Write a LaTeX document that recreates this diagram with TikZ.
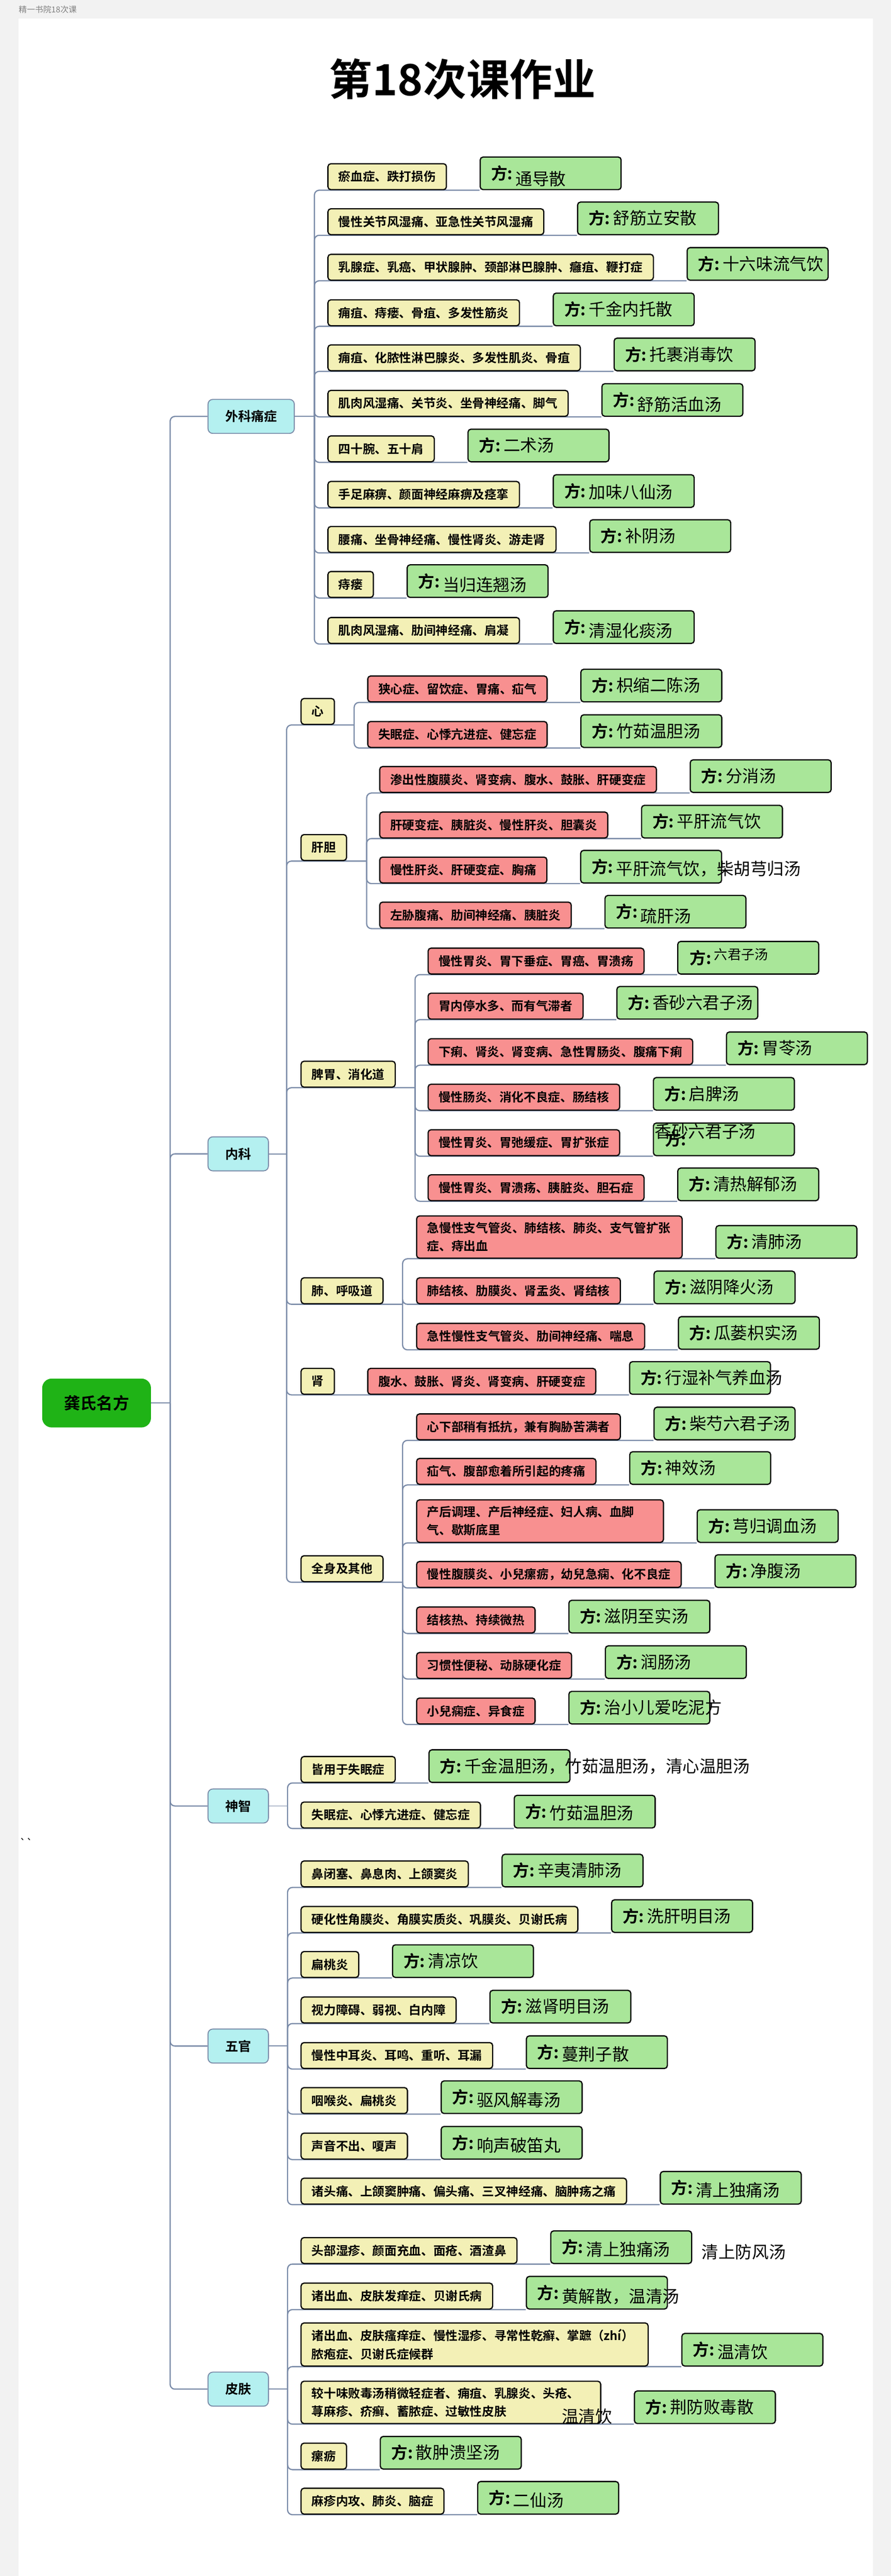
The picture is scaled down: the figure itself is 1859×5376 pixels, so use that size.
\documentclass[tikz,border=0pt]{standalone}
\usepackage{fontspec}
\setmainfont{Noto Sans CJK SC}[BoldFont={Noto Sans CJK SC Bold}]
\pgfdeclarelayer{bg}
\pgfdeclarelayer{lines}
\pgfsetlayers{bg,lines,main}
\definecolor{linec}{HTML}{7A8BA8}
\definecolor{yelc}{HTML}{F3F0B6}
\definecolor{redc}{HTML}{F89090}
\definecolor{fangc}{HTML}{A9E699}
\definecolor{bluec}{HTML}{B4F0F0}
\definecolor{rootc}{HTML}{1FB316}
\definecolor{pagec}{HTML}{F2F2F2}
% text of a green box: fixed width, long names run out of the box
\newcommand{\fangtxt}[2][0]{\makebox[294pt][l]{\hspace{23pt}{\bfseries\fontsize{34}{40}\selectfont 方:}\hspace{6pt}\smash{\raisebox{#1pt}{\fontsize{35}{40}\selectfont #2}}}\rule[-5pt]{0pt}{36pt}}

\begin{document}
\begin{tikzpicture}[x=1pt,y=-1pt,
    zheng/.style={draw=black, line width=2.5pt, rounded corners=6pt, fill=yelc,
      inner xsep=22pt, inner ysep=13pt, minimum height=54pt, anchor=south west,
      font=\fontsize{25.4}{38}\selectfont\bfseries},
    zhengr/.style={zheng, fill=redc},
    fang/.style={draw=black, line width=2.5pt, rounded corners=6pt, fill=fangc,
      inner sep=0pt, minimum height=68pt, anchor=south west},
    ke/.style={draw=linec, line width=2pt, rounded corners=10pt, fill=bluec,
      inner xsep=36pt, minimum height=71pt, anchor=west,
      font=\fontsize{27}{30}\selectfont\bfseries},
    lian/.style={draw=linec, line width=2.5pt, rounded corners=10pt}]
\useasboundingbox (0,0) rectangle (1859,5376);
\begin{pgfonlayer}{bg}
  \fill[pagec] (0,0) rectangle (1859,5376);
  \fill[white] (39,39) rectangle (1821,5376);
\end{pgfonlayer}

\node[anchor=west, inner sep=0pt, text=gray, font=\fontsize{17}{20}\selectfont] (head) at (39,20) {精一书院18次课};
\node[font=\fontsize{90}{100}\selectfont\bfseries] (title) at (965,165) {第18次课作业};
\node[inner sep=0pt, font=\fontsize{22}{24}\selectfont] (tick) at (55,3845) {\textasciigrave\textasciigrave};

% root and main branches
\node[fill=rootc, rounded corners=20pt, minimum width=227pt, minimum height=102pt,
  font=\fontsize{34}{40}\selectfont\bfseries] (root) at (201.5,2928) {龚氏名方};
\node[ke] (waike) at (433,869) {外科痛症};
\node[ke] (neike) at (433,2408) {内科};
\node[ke] (shenzhi) at (433,3769) {神智};
\node[ke] (wuguan) at (433,4270) {五官};
\node[ke] (pifu) at (433,4986) {皮肤};

\coordinate (mainS) at (355,2928);
\coordinate (waikeS) at (656,869);
\coordinate (neikeS) at (598,2408);
\coordinate (shenzhiS) at (600,3769);
\coordinate (wuguanS) at (600,4270);
\coordinate (pifuS) at (600,4986);

% 外科痛症
\node[zheng] (w1) at (683,397) {瘀血症、跌打损伤};
\node[fang] (wf1) at ([xshift=68pt]w1.south east) {\fangtxt[-12]{通导散}};
\node[zheng] (w2) at (683,491) {慢性关节风湿痛、亚急性关节风湿痛};
\node[fang] (wf2) at ([xshift=68pt]w2.south east) {\fangtxt{舒筋立安散}};
\node[zheng] (w3) at (683,586) {乳腺症、乳癌、甲状腺肿、颈部淋巴腺肿、癰疽、鞭打症};
\node[fang] (wf3) at ([xshift=68pt]w3.south east) {\fangtxt{十六味流气饮}};
\node[zheng] (w4) at (683,681) {痈疽、痔瘘、骨疽、多发性筋炎};
\node[fang] (wf4) at ([xshift=68pt]w4.south east) {\fangtxt{千金内托散}};
\node[zheng] (w5) at (683,775) {痈疽、化脓性淋巴腺炎、多发性肌炎、骨疽};
\node[fang] (wf5) at ([xshift=68pt]w5.south east) {\fangtxt{托裹消毒饮}};
\node[zheng] (w6) at (683,870) {肌肉风湿痛、关节炎、坐骨神经痛、脚气};
\node[fang] (wf6) at ([xshift=68pt]w6.south east) {\fangtxt[-10]{舒筋活血汤}};
\node[zheng] (w7) at (683,965) {四十腕、五十肩};
\node[fang] (wf7) at ([xshift=68pt]w7.south east) {\fangtxt{二术汤}};
\node[zheng] (w8) at (683,1060) {手足麻痹、颜面神经麻痹及痉挛};
\node[fang] (wf8) at ([xshift=68pt]w8.south east) {\fangtxt[-3]{加味八仙汤}};
\node[zheng] (w9) at (683,1154) {腰痛、坐骨神经痛、慢性肾炎、游走肾};
\node[fang] (wf9) at ([xshift=68pt]w9.south east) {\fangtxt{补阴汤}};
\node[zheng] (w10) at (683,1248) {痔瘘};
\node[fang] (wf10) at ([xshift=68pt]w10.south east) {\fangtxt[-8]{当归连翘汤}};
\node[zheng] (w11) at (683,1344) {肌肉风湿痛、肋间神经痛、肩凝};
\node[fang] (wf11) at ([xshift=68pt]w11.south east) {\fangtxt[-8]{清湿化痰汤}};

% 内科
\node[zheng] (xin) at (627,1513) {心};
\node[zheng] (gd) at (627,1797) {肝胆};
\node[zheng] (pw) at (627,2270) {脾胃、消化道};
\node[zheng] (fei) at (627,2722) {肺、呼吸道};
\node[zheng] (shen) at (627,2911) {肾};
\node[zheng] (qs) at (627,3302) {全身及其他};
\coordinate (xinS) at (739,1513);
\coordinate (gdS) at (765,1797);
\coordinate (pwS) at (866,2270);
\coordinate (feiS) at (840,2722);
\coordinate (qsS) at (840,3302);

\node[zhengr] (x1) at (766,1466) {狭心症、留饮症、胃痛、疝气};
\node[fang] (xf1) at ([xshift=68pt]x1.south east) {\fangtxt{枳缩二陈汤}};
\node[zhengr] (x2) at (766,1561) {失眠症、心悸亢进症、健忘症};
\node[fang] (xf2) at ([xshift=68pt]x2.south east) {\fangtxt{竹茹温胆汤}};

\node[zhengr] (g1) at (791,1655) {渗出性腹膜炎、肾变病、腹水、鼓胀、肝硬变症};
\node[fang] (gf1) at ([xshift=68pt]g1.south east) {\fangtxt{分消汤}};
\node[zhengr] (g2) at (791,1750) {肝硬变症、胰脏炎、慢性肝炎、胆囊炎};
\node[fang] (gf2) at ([xshift=68pt]g2.south east) {\fangtxt{平肝流气饮}};
\node[zhengr] (g3) at (791,1844) {慢性肝炎、肝硬变症、胸痛};
\node[fang] (gf3) at ([xshift=68pt]g3.south east) {\fangtxt[-4]{平肝流气饮，柴胡芎归汤}};
\node[zhengr] (g4) at (791,1938) {左胁腹痛、肋间神经痛、胰脏炎};
\node[fang] (gf4) at ([xshift=68pt]g4.south east) {\fangtxt[-9]{疏肝汤}};

\node[zhengr] (p1) at (892,2034) {慢性胃炎、胃下垂症、胃癌、胃溃疡};
\node[fang] (pf1) at ([xshift=68pt]p1.south east) {\makebox[294pt][l]{\hspace{25pt}{\bfseries\fontsize{34}{40}\selectfont 方:}\hspace{6pt}\smash{\raisebox{9pt}{\fontsize{28}{30}\selectfont 六君子汤}}}\rule[-5pt]{0pt}{36pt}};
\node[zhengr] (p2) at (892,2128) {胃内停水多、而有气滞者};
\node[fang] (pf2) at ([xshift=68pt]p2.south east) {\fangtxt{香砂六君子汤}};
\node[zhengr] (p3) at (892,2223) {下痢、肾炎、肾变病、急性胃肠炎、腹痛下痢};
\node[fang] (pf3) at ([xshift=68pt]p3.south east) {\fangtxt{胃苓汤}};
\node[zhengr] (p4) at (892,2318) {慢性肠炎、消化不良症、肠结核};
\node[fang] (pf4) at ([xshift=68pt]p4.south east) {\fangtxt{启脾汤}};
\node[zhengr] (p5) at (892,2413) {慢性胃炎、胃弛缓症、胃扩张症};
\node[fang] (pf5) at ([xshift=68pt]p5.south east) {\makebox[294pt][l]{\hspace{3pt}\rlap{\smash{\raisebox{16pt}{\fontsize{35}{40}\selectfont 香砂六君子汤}}}\hspace{21pt}{\bfseries\fontsize{34}{40}\selectfont 方:}}\rule[-5pt]{0pt}{36pt}};
\node[zhengr] (p6) at (892,2507) {慢性胃炎、胃溃疡、胰脏炎、胆石症};
\node[fang] (pf6) at ([xshift=68pt]p6.south east) {\fangtxt{清热解郁汤}};

\node[zhengr, text width=510pt, align=left] (f1) at (868,2627) {急慢性支气管炎、肺结核、肺炎、支气管扩张\\症、痔出血};
\node[fang] (ff1) at ([xshift=68pt]f1.south east) {\fangtxt{清肺汤}};
\node[zhengr] (f2) at (868,2722) {肺结核、肋膜炎、肾盂炎、肾结核};
\node[fang] (ff2) at ([xshift=68pt]f2.south east) {\fangtxt{滋阴降火汤}};
\node[zhengr] (f3) at (868,2817) {急性慢性支气管炎、肋间神经痛、喘息};
\node[fang] (ff3) at ([xshift=68pt]f3.south east) {\fangtxt{瓜蒌枳实汤}};

\node[zhengr] (s1) at (766,2911) {腹水、鼓胀、肾炎、肾变病、肝硬变症};
\node[fang] (sf1) at ([xshift=68pt]s1.south east) {\fangtxt{行湿补气养血汤}};

\node[zhengr] (q1) at (868,3006) {心下部稍有抵抗，兼有胸胁苦满者};
\node[fang] (qf1) at ([xshift=68pt]q1.south east) {\fangtxt{柴芍六君子汤}};
\node[zhengr] (q2) at (868,3099) {疝气、腹部愈着所引起的疼痛};
\node[fang] (qf2) at ([xshift=68pt]q2.south east) {\fangtxt{神效汤}};
\node[zhengr, text width=471pt, align=left] (q3) at (868,3220) {产后调理、产后神经症、妇人病、血脚\\气、歇斯底里};
\node[fang] (qf3) at ([xshift=68pt]q3.south east) {\fangtxt{芎归调血汤}};
\node[zhengr] (q4) at (868,3314) {慢性腹膜炎、小兒瘰疬，幼兒急痫、化不良症};
\node[fang] (qf4) at ([xshift=68pt]q4.south east) {\fangtxt{净腹汤}};
\node[zhengr] (q5) at (868,3409) {结核热、持续微热};
\node[fang] (qf5) at ([xshift=68pt]q5.south east) {\fangtxt{滋阴至实汤}};
\node[zhengr] (q6) at (868,3504) {习惯性便秘、动脉硬化症};
\node[fang] (qf6) at ([xshift=68pt]q6.south east) {\fangtxt{润肠汤}};
\node[zhengr] (q7) at (868,3599) {小兒痫症、异食症};
\node[fang] (qf7) at ([xshift=68pt]q7.south east) {\fangtxt{治小儿爱吃泥方}};

% 神智
\node[zheng] (z1) at (627,3721) {皆用于失眠症};
\node[fang] (zf1) at ([xshift=68pt]z1.south east) {\fangtxt{千金温胆汤，竹茹温胆汤，清心温胆汤}};
\node[zheng] (z2) at (627,3816) {失眠症、心悸亢进症、健忘症};
\node[fang] (zf2) at ([xshift=68pt]z2.south east) {\fangtxt[-3]{竹茹温胆汤}};

% 五官
\node[zheng] (o1) at (627,3939) {鼻闭塞、鼻息肉、上颌窦炎};
\node[fang] (of1) at ([xshift=68pt]o1.south east) {\fangtxt{辛夷清肺汤}};
\node[zheng] (o2) at (627,4034) {硬化性角膜炎、角膜实质炎、巩膜炎、贝谢氏病};
\node[fang] (of2) at ([xshift=68pt]o2.south east) {\fangtxt{洗肝明目汤}};
\node[zheng] (o3) at (627,4128) {扁桃炎};
\node[fang] (of3) at ([xshift=68pt]o3.south east) {\fangtxt{清凉饮}};
\node[zheng] (o4) at (627,4223) {视力障碍、弱视、白内障};
\node[fang] (of4) at ([xshift=68pt]o4.south east) {\fangtxt{滋肾明目汤}};
\node[zheng] (o5) at (627,4318) {慢性中耳炎、耳鸣、重听、耳漏};
\node[fang] (of5) at ([xshift=68pt]o5.south east) {\fangtxt[-4]{蔓荆子散}};
\node[zheng] (o6) at (627,4412) {咽喉炎、扁桃炎};
\node[fang] (of6) at ([xshift=68pt]o6.south east) {\fangtxt[-6]{驱风解毒汤}};
\node[zheng] (o7) at (627,4507) {声音不出、嗄声};
\node[fang] (of7) at ([xshift=68pt]o7.south east) {\fangtxt[-6]{响声破笛丸}};
\node[zheng] (o8) at (627,4601) {诸头痛、上颌窦肿痛、偏头痛、三叉神经痛、脑肿疡之痛};
\node[fang] (of8) at ([xshift=68pt]o8.south east) {\fangtxt[-5]{清上独痛汤}};

% 皮肤
\node[zheng] (k1) at (627,4725) {头部湿疹、颜面充血、面疮、酒渣鼻};
\node[fang] (kf1) at ([xshift=68pt]k1.south east) {\fangtxt[-5]{清上独痛汤}};
\node[anchor=west, inner sep=0pt, font=\fontsize{35}{40}\selectfont] (k1x) at (1464,4700) {清上防风汤};
\node[zheng] (k2) at (627,4820) {诸出血、皮肤发痒症、贝谢氏病};
\node[fang] (kf2) at ([xshift=68pt]k2.south east) {\fangtxt[-8]{黄解散，温清汤}};
\node[zheng, text width=680pt, align=left] (k3) at (627,4939) {诸出血、皮肤瘙痒症、慢性湿疹、寻常性乾癣、掌蹠（zhí）\\脓疱症、贝谢氏症候群};
\node[fang] (kf3) at ([xshift=68pt]k3.south east) {\fangtxt[-5]{温清饮}};
\node[zheng, text width=581pt, align=left] (k4) at (627,5059) {较十味败毒汤稍微轻症者、痈疽、乳腺炎、头疮、\\荨麻疹、疥癣、蓄脓症、过敏性皮肤};
\node[fang] (kf4) at ([xshift=68pt]k4.south east) {\fangtxt{荆防败毒散}};
\node[anchor=west, inner sep=0pt, font=\fontsize{35}{40}\selectfont] (k4x) at (1172,5043) {温清饮};
\node[zheng] (k5) at (627,5154) {瘰疬};
\node[fang] (kf5) at ([xshift=68pt]k5.south east) {\fangtxt{散肿溃坚汤}};
\node[zheng] (k6) at (627,5248) {麻疹内攻、肺炎、脑症};
\node[fang] (kf6) at ([xshift=68pt]k6.south east) {\fangtxt[-6]{二仙汤}};

% connectors
\begin{pgfonlayer}{lines}
  \draw[lian, line width=2pt] (root.east) -- (mainS);
  \foreach \k in {waike,neike,shenzhi,wuguan,pifu}
    \draw[lian] (mainS) |- (\k.west);
  \draw[lian, line width=2pt] (waike.east) -- (waikeS);
  \draw[lian, line width=2pt] (neike.east) -- (neikeS);
  \draw[lian, line width=2pt] (shenzhi.east) -- (shenzhiS);
  \draw[lian, line width=2pt] (wuguan.east) -- (wuguanS);
  \draw[lian, line width=2pt] (pifu.east) -- (pifuS);
  \foreach \i in {1,...,11}
    \draw[lian] (waikeS) |- (wf\i.south west);
  \draw[lian] (neikeS) |- (xinS);
  \draw[lian] (neikeS) |- (gdS);
  \draw[lian] (neikeS) |- (pwS);
  \draw[lian] (neikeS) |- (feiS);
  \draw[lian] (neikeS) |- (sf1.south west);
  \draw[lian] (neikeS) |- (qsS);
  \foreach \i in {1,2}
    \draw[lian] (xinS) |- (xf\i.south west);
  \foreach \i in {1,...,4}
    \draw[lian] (gdS) |- (gf\i.south west);
  \foreach \i in {1,...,6}
    \draw[lian] (pwS) |- (pf\i.south west);
  \foreach \i in {1,2,3}
    \draw[lian] (feiS) |- (ff\i.south west);
  \foreach \i in {1,...,7}
    \draw[lian] (qsS) |- (qf\i.south west);
  \foreach \i in {1,2}
    \draw[lian] (shenzhiS) |- (zf\i.south west);
  \foreach \i in {1,...,8}
    \draw[lian] (wuguanS) |- (of\i.south west);
  \foreach \i in {1,...,6}
    \draw[lian] (pifuS) |- (kf\i.south west);
\end{pgfonlayer}
\end{tikzpicture}
\end{document}
